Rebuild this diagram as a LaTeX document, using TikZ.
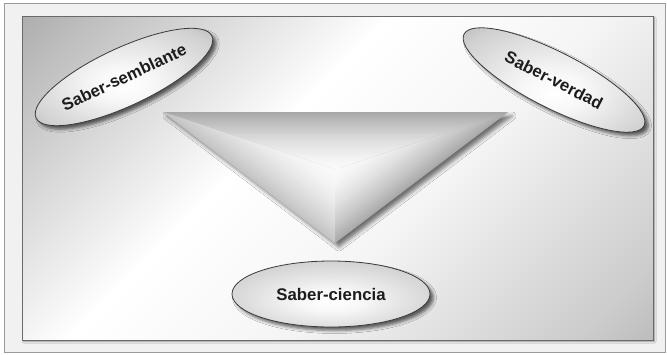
\documentclass[tikz,border=0pt]{standalone}
\usepackage{fontspec}
\setmainfont{Liberation Sans}
\usetikzlibrary{shapes.geometric,shadows.blur,calc}

\definecolor{framefill}{HTML}{F1F1F1}
\definecolor{frameline}{HTML}{9A9A9A}
\definecolor{panelline}{HTML}{6A6A6A}
\definecolor{ovalline}{HTML}{3A3A3A}
\definecolor{labelink}{HTML}{1C1C1C}
\definecolor{faceTop}{HTML}{A8A8A8}
\definecolor{faceLeft}{HTML}{C4C4C4}
\definecolor{faceRight}{HTML}{ABABAB}
\definecolor{faceMid}{HTML}{FAFAFA}

% diagonal grey-white-grey wash of the inner panel
\pgfdeclarehorizontalshading{panelwash}{100bp}{%
  color(0bp)=(black!50);
  color(20bp)=(black!25);
  color(42bp)=(white);
  color(58bp)=(white!96!black);
  color(80bp)=(black!20);
  color(100bp)=(black!42)}

% glossy fill of the ovals, bright spot a little below the middle
\pgfdeclareradialshading{ovalgloss}{\pgfpoint{0bp}{-6bp}}{%
  color(0bp)=(white);
  color(8bp)=(white!97!black);
  color(28bp)=(black!18);
  color(40bp)=(black!34);
  color(50bp)=(black!38)}

\tikzset{
  oval/.style={ellipse, draw=ovalline, line width=0.8pt, shading=ovalgloss,
    inner sep=0pt, text=labelink,
    font=\fontsize{16.8}{20}\selectfont\bfseries,
    blur shadow={shadow xshift=3.5pt, shadow yshift=-3.5pt,
      shadow blur radius=3pt, shadow opacity=60}},
}

% one bevel face from edge (#1)-(#2) up to the ridge point I, edge colour #3:
% nested triangles shrinking towards I, each a little lighter
\newcommand\bevelface[3]{%
  \foreach \k in {0,...,29}{%
    \pgfmathsetmacro\tt{\k/30}%
    \pgfmathtruncatemacro\pp{100*(1-\k/30)^1.6}%
    \fill[#3!\pp!faceMid] ($(#1)!\tt!(I)$) -- ($(#2)!\tt!(I)$) -- (I) -- cycle;
  }%
}

\begin{document}
\begin{tikzpicture}[x=1pt, y=-1pt]
  \useasboundingbox (0,0) rectangle (667,354);

  % outer frame and inner panel
  \draw[frameline, fill=framefill, line width=0.8pt] (4,3) rectangle (665.5,352.5);
  \fill[blur shadow={shadow xshift=1.5pt, shadow yshift=-1.5pt,
      shadow blur radius=1.5pt, shadow opacity=40}, white]
    (22,16) rectangle (653,340);
  \shade[shading=panelwash, shading angle=-45] (22,16) rectangle (653,340);
  \draw[panelline, line width=0.9pt] (22,16) rectangle (653,340);

  % bevelled triangle
  \coordinate (A) at (163,112);
  \coordinate (B) at (508,112);
  \coordinate (C) at (335,243);
  \coordinate (I) at (335,170);
  \fill[faceTop, blur shadow={shadow xshift=4pt, shadow yshift=-4pt,
      shadow blur radius=4pt, shadow opacity=55}] (A) -- (B) -- (C) -- cycle;
  \bevelface{A}{B}{faceTop}
  \bevelface{C}{A}{faceLeft}
  \bevelface{B}{C}{faceRight}

  % the three ovals
  \node[oval, rotate=25, minimum width=194pt, minimum height=58pt]
    (semblante) at (124,77) {Saber-semblante};
  \node[oval, rotate=-27, minimum width=202pt, minimum height=56pt]
    (verdad) at (554,80) {Saber-verdad};
  \node[oval, minimum width=198pt, minimum height=66pt]
    (ciencia) at (331,294) {Saber-ciencia};
\end{tikzpicture}
\end{document}
